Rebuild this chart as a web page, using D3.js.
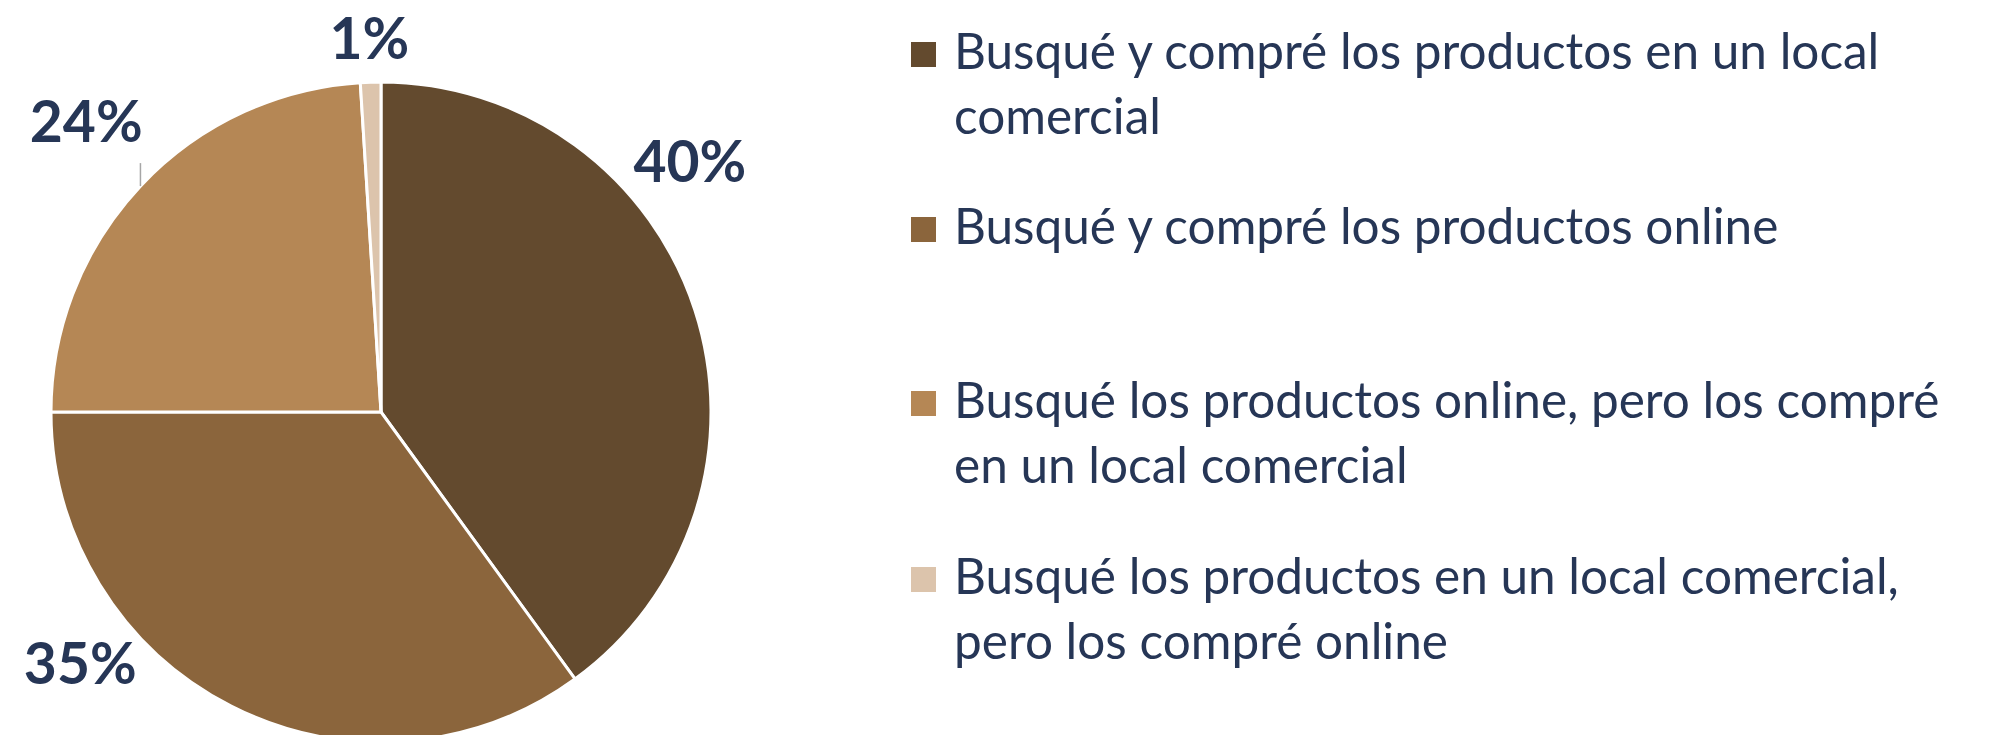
<!DOCTYPE html>
<html><head><meta charset="utf-8">
<script src="https://cdn.jsdelivr.net/npm/d3@7"></script>
<style>html,body{margin:0;padding:0;background:#fff;overflow:hidden}</style>
</head><body>
<svg id="c" width="1995" height="735"></svg>
<script>
const categories = [
  "Busqué y compré los productos en un local comercial",
  "Busqué y compré los productos online",
  "Busqué los productos online, pero los compré en un local comercial",
  "Busqué los productos en un local comercial, pero los compré online"
];
const values = [40, 35, 24, 1];
const labels = ["40%", "35%", "24%", "1%"];
const legendLines = [
  ["Busqué y compré los productos en un local", "comercial"],
  ["Busqué y compré los productos online"],
  ["Busqué los productos online, pero los compré", "en un local comercial"],
  ["Busqué los productos en un local comercial,", "pero los compré online"]
];
const colors = ["#634a2e", "#8b653c", "#b58755", "#dcc4ac"];

const textColor = "#263656";
const svg = d3.select("#c");
const cx = 381, cy = 412, R = 330;
const g = svg.append("g").attr("transform", `translate(${cx},${cy})`);

const pie = d3.pie().sort(null).value(d => d)(values);
const arc = d3.arc().innerRadius(0).outerRadius(R);

g.selectAll("path").data(pie).join("path")
  .attr("d", arc)
  .attr("fill", (d, i) => colors[i])
  .attr("stroke", "#fff").attr("stroke-width", 3).attr("stroke-linejoin", "miter");

// label placement (angle in degrees clockwise from top, radius)
const labelPlace = [
  {a: 50.9, r: 398},
  {a: 230.1, r: 392},
  {a: 314.6, r: 414},
  {a: -1.8, r: 374}
];
g.selectAll("text.lbl").data(pie).join("text")
  .attr("class", "lbl")
  .attr("x", (d, i) => labelPlace[i].r * Math.sin(labelPlace[i].a * Math.PI / 180))
  .attr("y", (d, i) => -labelPlace[i].r * Math.cos(labelPlace[i].a * Math.PI / 180))
  .attr("text-anchor", "middle").attr("dy", "0.36em")
  .attr("font-family", "Lato, sans-serif").attr("font-weight", 700)
  .attr("font-size", 57).attr("fill", textColor)
  .text((d, i) => labels[i]);

// leader line for the 24% slice
{
  const d = pie[2];
  const mid = (d.startAngle + d.endAngle) / 2;
  const x = R * Math.sin(mid), y = -R * Math.cos(mid);
  g.append("line").attr("x1", x).attr("x2", x).attr("y1", y).attr("y2", y - 23)
    .attr("stroke", "#a6a6a6").attr("stroke-width", 1.5);
}

// legend
const legX = 911, textX = 954, sq = 25;
const legBaselines = [69, 244, 418, 594];
const lineH = 65;
const leg = svg.append("g");
categories.forEach((c, i) => {
  leg.append("rect").attr("x", legX).attr("y", legBaselines[i] - sq - 2)
    .attr("width", sq).attr("height", sq).attr("fill", colors[i]);
  const t = leg.append("text").attr("font-family", "Lato, sans-serif")
    .attr("font-size", 49.5).attr("fill", textColor);
  legendLines[i].forEach((ln, j) => {
    t.append("tspan").attr("x", textX).attr("y", legBaselines[i] + j * lineH).text(ln);
  });
});
</script>
</body></html>
